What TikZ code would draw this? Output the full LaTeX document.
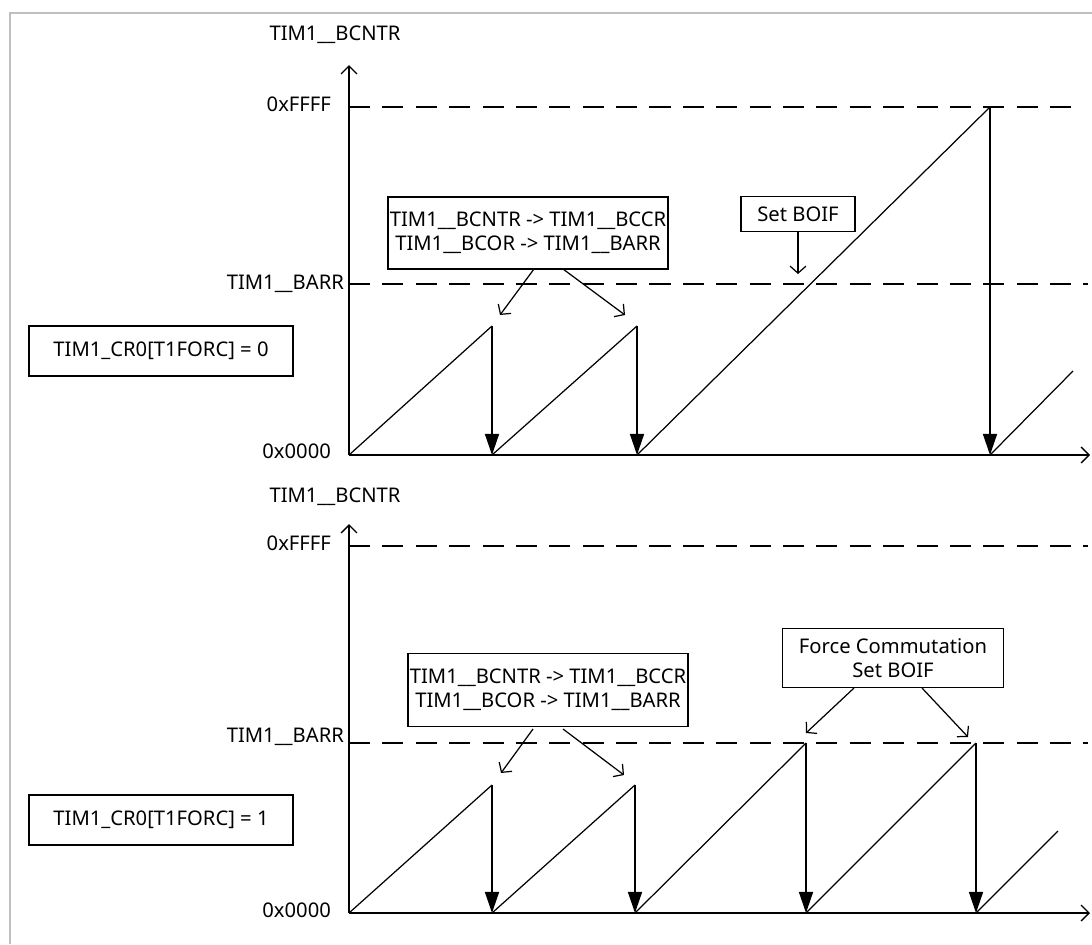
\documentclass[tikz,border=0pt]{standalone}
\usepackage{fontspec}
\setmainfont{Noto Sans}
\usetikzlibrary{arrows.meta}
\tikzset{
  lbl/.style={font=\fontsize{11.5}{13.5}\selectfont, inner sep=1pt},
  box/.style={draw, lbl, align=center, line width=0.7pt},
  ax/.style={line width=0.8pt, -{Straight Barb[length=4.5pt,width=9pt]}},
  lvl/.style={line width=0.8pt, dash pattern=on 12pt off 7pt},
  ramp/.style={line width=0.7pt},
  drop/.style={line width=0.8pt, -{Triangle[length=12pt,width=8pt]}},
  ptr/.style={line width=0.7pt, -{Straight Barb[length=4pt,width=9pt]}},
}
\begin{document}
\begin{tikzpicture}[x=0.02cm, y=-0.02cm]
    \useasboundingbox (0,0) rectangle (1092,944);
    \draw[gray!50, line width=1pt] (10,944) -- (10,13) -- (1092,13);

    % upper plot, T1FORC = 0
    \node[lbl] (yname1) at (335,35) {TIM1\_\_BCNTR};
    \node[lbl, anchor=east] (max1) at (333,104) {0xFFFF};
    \node[lbl, anchor=east] (arr1) at (346,284) {TIM1\_\_BARR};
    \node[lbl, anchor=east] (zero1) at (333,451) {0x0000};
    \node[box, minimum width=5.28cm, minimum height=1cm] (mode1) at (161,351) {TIM1\_CR0[T1FORC] = 0};
    \node[box, minimum width=5.26cm, minimum height=1.44cm] (copy1) at (528,233) {TIM1\_\_BCNTR -> TIM1\_\_BCCR\\TIM1\_\_BCOR -> TIM1\_\_BARR};
    \node[box, minimum width=2.28cm, minimum height=0.7cm] (boif1) at (798,214) {Set BOIF};

    \coordinate (o1) at (349,455);
    \coordinate (p11) at (492,326);
    \coordinate (b11) at (492,455);
    \coordinate (p12) at (637,326);
    \coordinate (b12) at (637,455);
    \coordinate (p13) at (990,107);
    \coordinate (b13) at (990,455);
    \coordinate (e1) at (1073,371);

    \draw[lvl] (349,107) -- (1072,107);
    \draw[lvl] (349,284) -- (1088,284);
    \draw[ax] (o1) -- (349,65);
    \draw[ax] (o1) -- (1090,455);

    \draw[ramp] (o1) -- (p11);
    \draw[ramp] (b11) -- (p12);
    \draw[ramp] (b12) -- (p13);
    \draw[ramp] (b13) -- (e1);
    \draw[drop] (p11) -- (b11);
    \draw[drop] (p12) -- (b12);
    \draw[drop] (p13) -- (b13);

    \draw[ptr] (534,269) -- (500,315);
    \draw[ptr] (563,269) -- (625,315);
    \draw[ptr] (boif1.south) -- (798,274);

    % lower plot, T1FORC = 1
    \node[lbl] (yname2) at (335,497) {TIM1\_\_BCNTR};
    \node[lbl, anchor=east] (max2) at (333,543) {0xFFFF};
    \node[lbl, anchor=east] (arr2) at (346,737) {TIM1\_\_BARR};
    \node[lbl, anchor=east] (zero2) at (333,910) {0x0000};
    \node[box, minimum width=5.28cm, minimum height=1cm] (mode2) at (161,820) {TIM1\_CR0[T1FORC] = 1};
    \node[box, minimum width=5.1cm, minimum height=1.46cm] (copy2) at (548,690) {TIM1\_\_BCNTR -> TIM1\_\_BCCR\\TIM1\_\_BCOR -> TIM1\_\_BARR};
    \node[box, minimum width=4.42cm, minimum height=1.18cm] (force2) at (893,658) {Force Commutation\\Set BOIF};

    \coordinate (o2) at (349,913);
    \coordinate (p21) at (492,785);
    \coordinate (b21) at (492,913);
    \coordinate (p22) at (635,785);
    \coordinate (b22) at (635,913);
    \coordinate (p23) at (806,743);
    \coordinate (b23) at (806,913);
    \coordinate (p24) at (976,743);
    \coordinate (b24) at (976,913);
    \coordinate (e2) at (1058,831);

    \draw[lvl] (349,546) -- (1088,546);
    \draw[lvl] (349,743) -- (1088,743);
    \draw[ax] (o2) -- (349,524);
    \draw[ax] (o2) -- (1090,913);

    \draw[ramp] (o2) -- (p21);
    \draw[ramp] (b21) -- (p22);
    \draw[ramp] (b22) -- (p23);
    \draw[ramp] (b23) -- (p24);
    \draw[ramp] (b24) -- (e2);
    \draw[drop] (p21) -- (b21);
    \draw[drop] (p22) -- (b22);
    \draw[drop] (p23) -- (b23);
    \draw[drop] (p24) -- (b24);

    \draw[ptr] (533,729) -- (501,773);
    \draw[ptr] (563,729) -- (624,775);
    \draw[ptr] (854,688) -- (806,733);
    \draw[ptr] (922,688) -- (968,737);
\end{tikzpicture}
\end{document}
